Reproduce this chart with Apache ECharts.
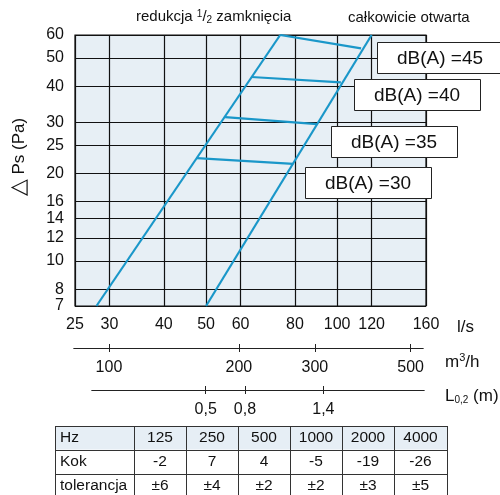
<!DOCTYPE html>
<html><head><meta charset="utf-8">
<script src="https://cdn.jsdelivr.net/npm/echarts@6/dist/echarts.min.js"></script>
<style>html,body{margin:0;padding:0;background:#fff}#c{width:500px;height:495px}</style>
</head><body><div id="c"></div>
<script>
// ---- data ----
const xTicks = [25, 30, 40, 50, 60, 80, 100, 120, 160];      // l/s
const yTicks = [7, 8, 10, 12, 14, 16, 20, 25, 30, 40, 50, 60]; // Pa
const m3hTicks = [100, 200, 300, 500];                        // m3/h
const lTicks = [0.5, 0.8, 1.4];                               // L0,2 (m)
const halfClosed = [[28, 7], [74, 60]];      // redukcja 1/2 zamknięcia
const fullyOpen = [[50, 7], [120, 60]];      // całkowicie otwarta
const dbLevels = [45, 40, 35, 30];
const connStart = [[74, 60], [63.5, 43], [55.3, 31.3], [47.6, 22.6]];
const connEnd = [[113.5, 54], [102, 41.2], [90, 29.6], [79.3, 21.6]];
const tblHead = ['Hz', '125', '250', '500', '1000', '2000', '4000'];
const tblKok = ['Kok', '-2', '7', '4', '-5', '-19', '-26'];
const tblTol = ['tolerancja', '±6', '±4', '±2', '±2', '±3', '±5'];

const FF = '"Liberation Sans", Arial, sans-serif';
const TXT = '#111';
const BLUE = '#1a97c9';

const chart = echarts.init(document.getElementById('c'), null, {renderer: 'canvas'});

const series = [];
series.push({type: 'line', xAxisIndex: 0, yAxisIndex: 0, data: halfClosed, symbol: 'none', lineStyle: {color: BLUE, width: 2.2}, animation: false, z: 5});
series.push({type: 'line', xAxisIndex: 0, yAxisIndex: 0, data: fullyOpen, symbol: 'none', lineStyle: {color: BLUE, width: 2.2}, animation: false, z: 5});
dbLevels.forEach((lv, i) => {
  series.push({type: 'line', name: 'dB' + lv, xAxisIndex: 0, yAxisIndex: 0, data: [connStart[i], connEnd[i]], symbol: 'none', lineStyle: {color: BLUE, width: 2.2}, animation: false, z: 5});
});

const graphic = [];
// titles
graphic.push({type: 'text', left: 136, top: 9, style: {
  text: 'redukcja {sup|1}/{sub|2} zamknięcia', font: '15px ' + FF, fill: TXT,
  rich: {sup: {fontSize: 10, padding: [0, 0, 6, 0], fontFamily: FF, fill: TXT}, sub: {fontSize: 10, padding: [7, 0, 0, 0], fontFamily: FF, fill: TXT}}
}});
graphic.push({type: 'text', left: 348, top: 10, style: {text: 'całkowicie otwarta', font: '15px ' + FF, fill: TXT}});
// y title
graphic.push({type: 'text', x: 19, y: 157, rotation: Math.PI / 2, style: {text: '{tri|△} Ps (Pa)', font: '17px ' + FF, fill: TXT, align: 'center', verticalAlign: 'middle',
  rich: {tri: {fontSize: 22, fontFamily: FF, fill: TXT}}}});
// unit labels
graphic.push({type: 'text', x: 457, y: 327, style: {text: 'l/s', font: '17px ' + FF, fill: TXT, verticalAlign: 'middle'}});
graphic.push({type: 'text', x: 445, y: 362, style: {text: 'm{sup|3}/h', font: '17px ' + FF, fill: TXT, verticalAlign: 'middle',
  rich: {sup: {fontSize: 11, padding: [0, 0, 8, 0], fontFamily: FF, fill: TXT}}}});
graphic.push({type: 'text', x: 445, y: 396, style: {text: 'L{sub|0,2} (m)', font: '17px ' + FF, fill: TXT, verticalAlign: 'middle',
  rich: {sub: {fontSize: 10, padding: [8, 0, 0, 0], fontFamily: FF, fill: TXT}}}});
// dB boxes
const boxPos = [[377, 42], [354, 79], [331, 126], [305, 167]];
dbLevels.forEach((lv, i) => {
  graphic.push({type: 'rect', shape: {x: boxPos[i][0] + 0.5, y: boxPos[i][1] + 0.5, width: 126, height: 31}, style: {fill: '#fff', stroke: '#222', lineWidth: 1}, z: 20});
  graphic.push({type: 'text', x: boxPos[i][0] + 63, y: boxPos[i][1] + 16.5, style: {text: 'dB(A) =' + lv, font: '19px ' + FF, fill: TXT, align: 'center', verticalAlign: 'middle'}, z: 21});
});
// table
const colW = [79, 52, 52, 52, 52, 52, 53];
const rowTop = [426, 449.5, 473.5, 497.5];
const rows = [tblHead, tblKok, tblTol];
let cx = [55];
colW.forEach(w => cx.push(cx[cx.length - 1] + w));
graphic.push({type: 'rect', shape: {x: cx[0], y: rowTop[0], width: cx[7] - cx[0], height: rowTop[1] - rowTop[0]}, style: {fill: '#e6eef5'}, z: 10});
rows.forEach((r, ri) => {
  r.forEach((t, ci) => {
    const yc = (rowTop[ri] + rowTop[ri + 1]) / 2;
    graphic.push({type: 'text', x: ci === 0 ? cx[0] + 5 : (cx[ci] + cx[ci + 1]) / 2, y: yc,
      style: {text: t, font: '15.5px ' + FF, fill: TXT, align: ci === 0 ? 'left' : 'center', verticalAlign: 'middle'}, z: 12});
  });
});
rowTop.forEach(y => {
  graphic.push({type: 'line', shape: {x1: cx[0], y1: Math.round(y) + 0.5, x2: cx[7], y2: Math.round(y) + 0.5}, style: {stroke: '#333', lineWidth: 1}, z: 13});
});
cx.forEach(x => {
  graphic.push({type: 'line', shape: {x1: Math.round(x) + 0.5, y1: rowTop[0], x2: Math.round(x) + 0.5, y2: 495}, style: {stroke: '#333', lineWidth: 1}, z: 13});
});

const lbl = {fontSize: 16, color: TXT, fontFamily: FF};
const secLine = {show: true, lineStyle: {color: '#222', width: 1}};

chart.setOption({
  animation: false,
  grid: [
    {left: 75, top: 35, width: 351, height: 271, show: true, backgroundColor: '#e7eff5', borderColor: '#111', borderWidth: 1.2, z: 0},
    {left: 74, top: 347, width: 349, height: 1},
    {left: 92, top: 389, width: 332, height: 1}
  ],
  xAxis: [
    {gridIndex: 0, type: 'log', min: 25, max: 160, axisLine: {show: false}, axisTick: {show: false, customValues: xTicks},
      axisLabel: Object.assign({customValues: xTicks, margin: 11, showMinLabel: true, showMaxLabel: true}, lbl),
      splitLine: {show: true, lineStyle: {color: '#111', width: 1.2}}},
    {gridIndex: 1, type: 'log', min: 83, max: 534, position: 'bottom', axisLine: secLine,
      axisTick: {show: true, length: 4, customValues: m3hTicks, lineStyle: {color: '#222'}},
      axisLabel: Object.assign({customValues: m3hTicks, margin: 12}, lbl), splitLine: {show: false}},
    {gridIndex: 1, type: 'log', min: 83, max: 534, position: 'bottom', axisLine: secLine,
      axisTick: {show: true, inside: true, length: 4, customValues: m3hTicks, lineStyle: {color: '#222'}},
      axisLabel: {show: false}, splitLine: {show: false}},
    {gridIndex: 2, type: 'value', min: -0.37, max: 2.17, position: 'bottom', axisLine: secLine,
      axisTick: {show: true, length: 4, customValues: lTicks, lineStyle: {color: '#222'}},
      axisLabel: Object.assign({customValues: lTicks, margin: 12, formatter: v => String(v).replace('.', ',')}, lbl), splitLine: {show: false}},
    {gridIndex: 2, type: 'value', min: -0.37, max: 2.17, position: 'bottom', axisLine: secLine,
      axisTick: {show: true, inside: true, length: 4, customValues: lTicks, lineStyle: {color: '#222'}},
      axisLabel: {show: false}, splitLine: {show: false}}
  ],
  yAxis: [
    {gridIndex: 0, type: 'log', min: 7, max: 60, axisLine: {show: false}, axisTick: {show: false, customValues: yTicks},
      axisLabel: Object.assign({customValues: yTicks, margin: 11, showMinLabel: true, showMaxLabel: true}, lbl),
      splitLine: {show: true, lineStyle: {color: '#111', width: 1.2}}},
    {gridIndex: 1, type: 'value', show: false},
    {gridIndex: 2, type: 'value', show: false}
  ],
  series: series,
  graphic: graphic
});
</script>
</body></html>
